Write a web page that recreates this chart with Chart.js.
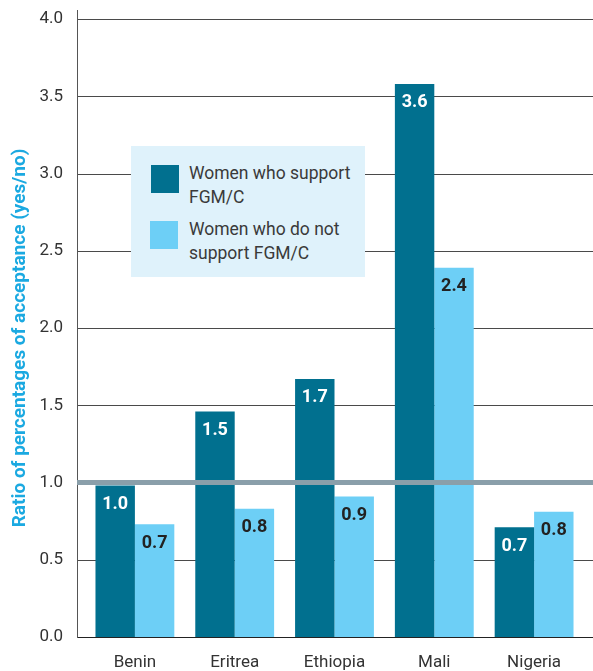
<!DOCTYPE html>
<html>
<head>
<meta charset="utf-8">
<script src="https://cdn.jsdelivr.net/npm/chart.js@4.4.1/dist/chart.umd.min.js"></script>
<style>
    body { margin: 0; background: #fff; }
    #wrap { position: relative; width: 593px; height: 671px; }
    #legend {
        position: absolute; left: 131px; top: 146px; width: 234px; height: 131px;
        background: #dff2fb; font-family: Roboto, sans-serif; font-size: 17.5px;
        color: #3a3a3a; line-height: 24px;
    }
    .sw { position: absolute; width: 28px; height: 28px; }
    .txt { position: absolute; left: 58px; white-space: nowrap; }
</style>
</head>
<body>
<div id="wrap">
    <canvas id="chart" width="593" height="671"></canvas>
    <div id="legend"></div>
</div>
<script>
const countries = ['Benin', 'Eritrea', 'Ethiopia', 'Mali', 'Nigeria'];
const supportValues = [0.98, 1.46, 1.67, 3.58, 0.71];
const notSupportValues = [0.73, 0.83, 0.91, 2.39, 0.81];
const seriesNames = [['Women who support', 'FGM/C'], ['Women who do not', 'support FGM/C']];
const yTicks = [0, 0.5, 1, 1.5, 2, 2.5, 3, 3.5, 4];
const referenceValue = 1;
const yTitle = 'Ratio of percentages of acceptance (yes/no)';

const darkBlue = '#01708f';
const lightBlue = '#6dcff6';

// legend in html, sits over the grid like in the original
const legend = document.getElementById('legend');
[[darkBlue, 19, 15], [lightBlue, 75, 71]].forEach(([color, swTop, txtTop], i) => {
    const sw = document.createElement('div');
    sw.className = 'sw';
    sw.style.background = color;
    sw.style.left = (i === 0 ? 20 : 19) + 'px';
    sw.style.top = swTop + 'px';
    legend.appendChild(sw);
    const t = document.createElement('div');
    t.className = 'txt';
    t.style.top = txtTop + 'px';
    t.innerHTML = seriesNames[i].join('<br>');
    legend.appendChild(t);
});

const gridPlugin = {
    id: 'grid',
    beforeDatasetsDraw(chart) {
        const { ctx, chartArea, scales: { y } } = chart;
        const x0 = chartArea.left - 8;
        ctx.save();
        ctx.lineWidth = 1;
        yTicks.forEach(v => {
            const py = Math.round(y.getPixelForValue(v)) + 0.5;
            ctx.strokeStyle = v === 0 ? '#222' : '#4a4a4a';
            ctx.beginPath();
            ctx.moveTo(x0, py);
            ctx.lineTo(chart.width, py);
            ctx.stroke();
        });
        ctx.strokeStyle = '#555';
        ctx.beginPath();
        ctx.moveTo(x0 + 0.5, 10);
        ctx.lineTo(x0 + 0.5, Math.round(y.getPixelForValue(0)) + 1);
        ctx.stroke();

        // axis title, a bit below the plot centre as in the original
        ctx.translate(25, 338);
        ctx.rotate(-Math.PI / 2);
        ctx.font = 'bold 19px Roboto, sans-serif';
        ctx.fillStyle = '#1ba9e1';
        ctx.textAlign = 'center';
        ctx.textBaseline = 'alphabetic';
        ctx.fillText(yTitle, 0, 0);
        ctx.restore();
    },
    afterDatasetsDraw(chart) {
        const { ctx, chartArea, scales: { y } } = chart;
        ctx.save();
        const ry = y.getPixelForValue(referenceValue);
        ctx.strokeStyle = '#8a9faa';
        ctx.lineWidth = 5;
        ctx.beginPath();
        ctx.moveTo(chartArea.left - 8, ry);
        ctx.lineTo(chart.width, ry);
        ctx.stroke();

        ctx.font = 'bold 18px Roboto, sans-serif';
        ctx.textAlign = 'center';
        ctx.textBaseline = 'middle';
        chart.data.datasets.forEach((ds, di) => {
            const meta = chart.getDatasetMeta(di);
            ctx.fillStyle = di === 0 ? '#fff' : '#222';
            meta.data.forEach((bar, i) => {
                ctx.fillText(ds.data[i].toFixed(1), bar.x, bar.y + 19);
            });
        });
        ctx.restore();
    }
};

new Chart(document.getElementById('chart'), {
    type: 'bar',
    data: {
        labels: countries,
        datasets: [
            { label: seriesNames[0].join(' '), data: supportValues, backgroundColor: darkBlue },
            { label: seriesNames[1].join(' '), data: notSupportValues, backgroundColor: lightBlue }
        ]
    },
    options: {
        responsive: false,
        animation: false,
        events: [],
        layout: { padding: { top: 19, right: 9, left: 0, bottom: 0 } },
        datasets: { bar: { categoryPercentage: 0.79, barPercentage: 1 } },
        plugins: { legend: { display: false }, tooltip: { enabled: false } },
        scales: {
            x: {
                grid: { display: false },
                border: { display: false },
                ticks: { color: '#333', font: { family: 'Roboto', size: 17 }, padding: 8, maxRotation: 0 },
                afterFit(scale) {
                    scale.height = 34;
                    scale.paddingLeft = 0;
                    scale.paddingRight = 0;
                }
            },
            y: {
                min: 0,
                max: 4,
                grid: { display: false },
                border: { display: false },
                afterBuildTicks(scale) { scale.ticks = yTicks.map(v => ({ value: v })); },
                ticks: {
                    color: '#333',
                    font: { family: 'Roboto', size: 17 },
                    padding: 14,
                    callback: v => v.toFixed(1)
                },
                afterFit(scale) {
                    scale.width = 85;
                    scale.paddingTop = 0;
                    scale.paddingBottom = 0;
                }
            }
        }
    },
    plugins: [gridPlugin]
});
</script>
</body>
</html>
